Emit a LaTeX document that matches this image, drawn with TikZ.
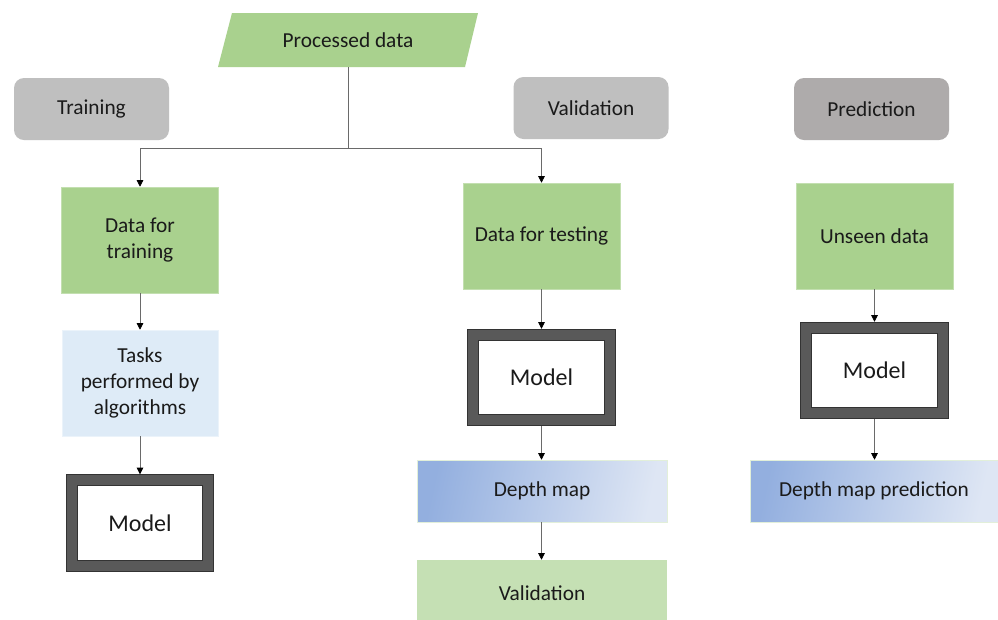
\documentclass[tikz,border=0pt]{standalone}
\usepackage{fontspec}
\setmainfont{Carlito}
\usetikzlibrary{arrows.meta,positioning}

\definecolor{stepgreen}{HTML}{A9D18E}
\definecolor{resgreen}{HTML}{C5E0B4}
\definecolor{taskblue}{HTML}{DEEBF7}
\definecolor{phasegray}{HTML}{BFBFBF}
\definecolor{predgray}{HTML}{AEABAB}
\definecolor{modelgray}{HTML}{595959}
\definecolor{mapdark}{HTML}{93AFDF}
\definecolor{maplight}{HTML}{DEE6F4}
\definecolor{wire}{HTML}{6A6A6A}
\definecolor{ink}{HTML}{1A1A1A}

\tikzset{
  txt/.style={font=\fontsize{16}{19.5}\selectfont, text=ink, align=center, inner sep=0pt},
  phase/.style={txt, rectangle, rounded corners=7.5pt, minimum width=116.25pt, minimum height=46.5pt},
  databox/.style={txt, rectangle, fill=stepgreen, draw=stepgreen!70!white, line width=0.4pt,
    minimum width=117.5pt, minimum height=79.5pt},
  taskbox/.style={txt, rectangle, fill=taskblue, draw=taskblue!60!white, line width=0.4pt,
    minimum width=117pt, minimum height=79.5pt},
  modelbox/.style={txt, font=\fontsize{18}{21}\selectfont, rectangle, fill=white,
    draw=black!80, line width=0.6pt, double=modelgray, double distance=7.8pt,
    outer sep=4.5pt, minimum width=102.4pt, minimum height=64.1pt},
  mapbox/.style={txt, rectangle, top color=mapdark, bottom color=maplight, shading angle=78,
    draw=resgreen!50!white, line width=0.4pt, minimum height=46.5pt},
  resbox/.style={txt, rectangle, fill=resgreen, minimum width=187.5pt, minimum height=49.5pt},
  link/.style={draw=wire, line width=0.6pt},
  flow/.style={link, -{Triangle[length=5pt, width=5pt, color=black]}},
}

\begin{document}
\begin{tikzpicture}[x=0.75pt, y=-0.75pt]
  \useasboundingbox (0,0) rectangle (998,619);
  \fill[white] (0,0) rectangle (998,619);
  \clip (0,0) rectangle (998,619);

  % input parallelogram
  \fill[stepgreen] (218,67) -- (232,13) -- (478,13) -- (465,67) -- cycle;
  \node[txt, minimum height=40.5pt] (proc) at (348,40) {Processed data};

  % phase headers
  \node[phase, fill=phasegray] (htrain) at (91.5,109) {Training};
  \node[phase, fill=phasegray] (hvalid) at (591,108) {Validation};
  \node[phase, fill=predgray]  (hpred)  at (871.5,109) {Prediction};

  % training column
  \node[databox] (dtrain) at (140,240) {Data for\\training};
  \node[taskbox] (tasks)  at (140,383) {Tasks\\performed by\\algorithms};
  \node[modelbox] (mtrain) at (140,523) {Model};

  % validation column
  \node[databox] (dtest)  at (541.5,236) {Data for testing};
  \node[modelbox] (mvalid) at (541.5,377.5) {Model};
  \node[mapbox, minimum width=187.5pt] (dmap) at (542,491) {Depth map};
  \node[resbox] (vres) at (542,593) {Validation};

  % prediction column
  \node[databox] (unseen) at (874.5,236) {Unseen data};
  \node[modelbox] (mpred)  at (874.5,370.5) {Model};
  \node[mapbox, minimum width=186pt] (dpred) at (874,491) {Depth map prediction};

  % split of the processed data
  \coordinate (split) at (348,148);
  \draw[link] (proc.south) -- (split);
  \draw[flow] (split) -| (dtrain.north);
  \draw[flow] (split) -| (dtest.north);

  % column flows
  \draw[flow] (dtrain) -- (tasks);
  \draw[flow] (tasks) -- (mtrain);
  \draw[flow] (dtest.south -| mvalid.north) -- (mvalid.north);
  \draw[flow] (mvalid) -- (dmap.north -| mvalid.south);
  \draw[flow] (dmap.south -| mvalid.south) -- (vres.north -| mvalid.south);
  \draw[flow] (unseen) -- (mpred);
  \draw[flow] (mpred) -- (dpred.north -| mpred.south);
\end{tikzpicture}
\end{document}
